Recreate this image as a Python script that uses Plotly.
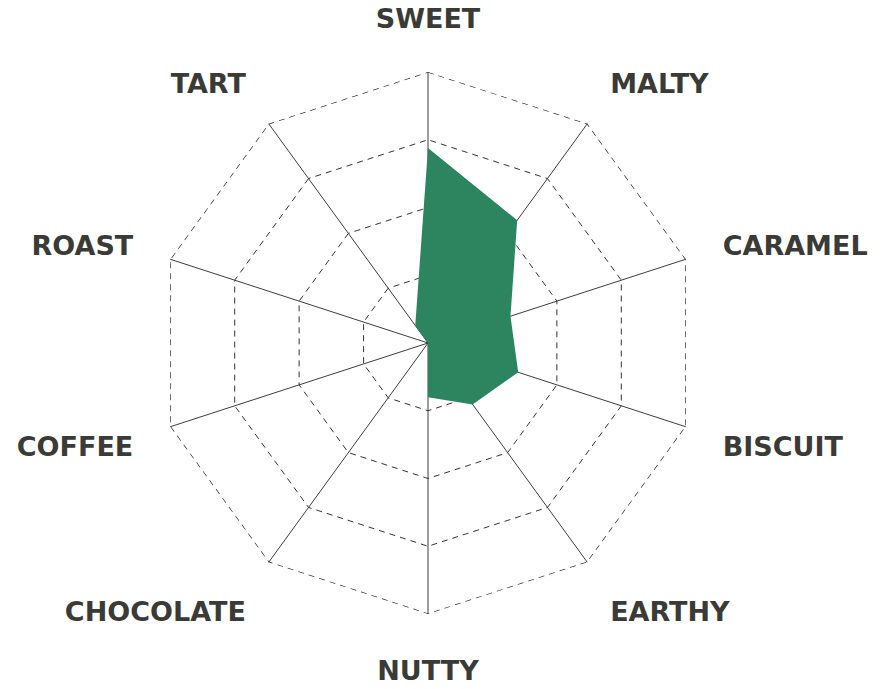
import plotly.graph_objects as go

# flavour wheel, values on a 0-10 scale
categories = ["SWEET", "MALTY", "CARAMEL", "BISCUIT", "EARTHY",
              "NUTTY", "CHOCOLATE", "COFFEE", "ROAST", "TART"]
scores = [7.2, 5.6, 3.2, 3.5, 2.8, 2.0, 0.0, 0.0, 0.0, 0.8]
ring_ticks = [2.5, 5, 7.5, 10]

fill_green = "#2d8560"
ink = "#3a3a36"
dash = "6px,5px"

fig = go.Figure()
fig.add_trace(go.Scatterpolar(
    r=scores + scores[:1],
    theta=categories + categories[:1],
    mode="lines",
    fill="toself",
    fillcolor=fill_green,
    line=dict(color=fill_green, width=0),
    hoverinfo="skip",
))

# outer dashed ring (plotly skips the grid line at the range end)
outer = [ring_ticks[-1]] * (len(categories) + 1)
fig.add_trace(go.Scatterpolar(
    r=outer,
    theta=categories + categories[:1],
    mode="lines",
    line=dict(color="#222222", width=1.3, dash=dash),
    cliponaxis=False,
    hoverinfo="skip",
))

fig.update_layout(
    width=888, height=689,
    margin=dict(l=149, r=197, t=64, b=83),
    paper_bgcolor="white",
    showlegend=False,
    polar=dict(
        bgcolor="white",
        gridshape="linear",
        radialaxis=dict(
            range=[0, 10],
            tickvals=ring_ticks,
            showticklabels=False,
            ticks="",
            showline=False,
            gridcolor="#333333",
            gridwidth=1,
            griddash=dash,
        ),
        angularaxis=dict(
            rotation=90,
            direction="clockwise",
            showline=False,
            gridcolor="#3c3c3c",
            gridwidth=1.2,
            ticks="outside",
            ticklen=33,
            tickcolor="rgba(0,0,0,0)",
            tickfont=dict(family="DejaVu Sans", size=27, color=ink, weight="bold"),
            layer="above traces",
        ),
    ),
)

fig.write_html("out.html")
